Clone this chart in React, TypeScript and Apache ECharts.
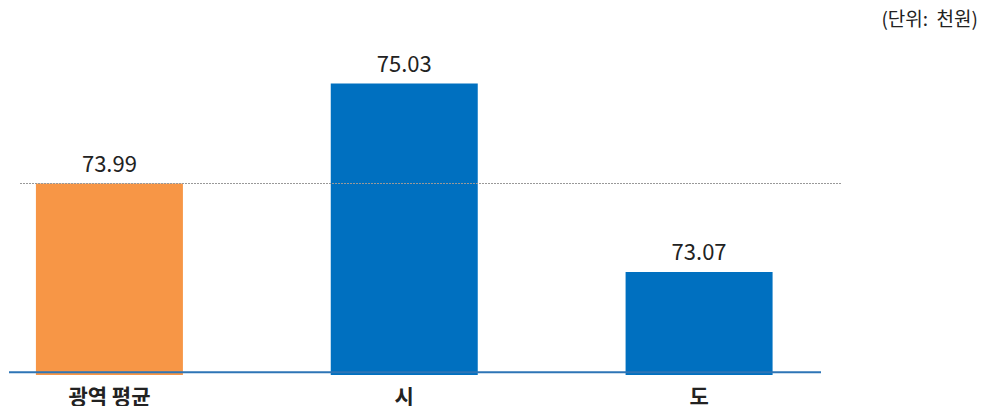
import React, { useEffect, useRef } from "react";
import * as echarts from "echarts";

const categories = ["광역 평균", "시", "도"];
const values = [73.99, 75.03, 73.07];
const barColors = ["#F79646", "#0070C0", "#0070C0"];
const averageValue = 73.99;
const unitText = "(단위:  천원)";

const FONT = "'Noto Sans CJK KR', 'Noto Sans', sans-serif";
const SHIFT = 38;

export default function App() {
  const ref = useRef<HTMLDivElement>(null);
  useEffect(() => {
    if (!ref.current) return;
    const chart = echarts.init(ref.current, null, { renderer: "svg" });
    chart.setOption({
      animation: false,
      grid: { left: 0, right: 138.5, top: 38.4, bottom: 31 },
      xAxis: {
        type: "category",
        data: categories,
        axisLine: { show: false },
        axisTick: { show: false },
        axisLabel: {
          margin: 9,
          fontSize: 21,
          lineHeight: 21,
          fontWeight: "bold",
          color: "#222",
          fontFamily: FONT,
        },
      },
      yAxis: {
        type: "value",
        min: 72,
        max: 75.5,
        show: false,
        splitLine: { show: false },
      },
      series: [
        {
          type: "bar",
          barWidth: 147,
          data: values.map((v, i) => ({ value: v, itemStyle: { color: barColors[i] } })),
          label: {
            show: true,
            position: "top",
            distance: 11,
            fontSize: 22,
            color: "#222",
            fontFamily: FONT,
            formatter: (p: any) => p.value.toFixed(2),
          },
        },
      ],
    });
    const yAvg = chart.convertToPixel({ yAxisIndex: 0 }, averageValue) as number;
    const yBase = chart.convertToPixel({ yAxisIndex: 0 }, 72) as number;
    chart.setOption({
      graphic: [
        {
          type: "line",
          shape: { x1: 20 + SHIFT, y1: Math.round(yAvg) - 0.5, x2: 842 + SHIFT, y2: Math.round(yAvg) - 0.5 },
          style: { stroke: "#999", lineWidth: 1, lineDash: [2, 1] },
          z: 10,
        },
        {
          type: "line",
          shape: { x1: 9 + SHIFT, y1: yBase - 2.7, x2: 821 + SHIFT, y2: yBase - 2.7 },
          style: { stroke: "#2E75B6", lineWidth: 2 },
          z: 10,
        },
        {
          type: "text",
          right: 7,
          top: 8,
          style: { text: unitText, fontSize: 19, fill: "#222", fontFamily: FONT },
        },
      ],
    });
    return () => chart.dispose();
  }, []);
  return (
    <div style={{ position: "absolute", left: 0, top: 0, width: 985, height: 406, overflow: "hidden", background: "#fff" }}>
      <div
        ref={ref}
        style={{ position: "absolute", left: -SHIFT, top: 0, width: 985 + SHIFT, height: 406 }}
      />
    </div>
  );
}
